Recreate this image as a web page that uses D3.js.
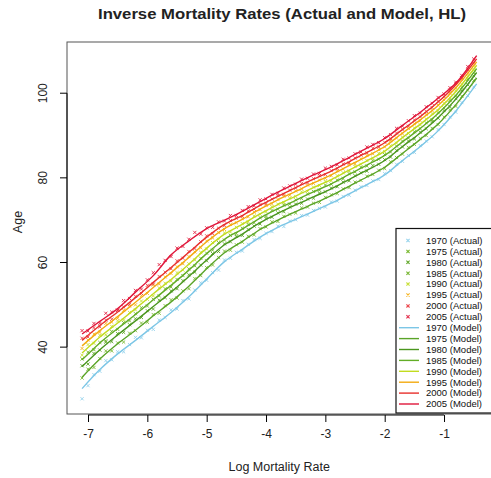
<!DOCTYPE html>
<html>
<head>
<meta charset="utf-8">
<script src="https://cdn.jsdelivr.net/npm/d3@7"></script>
<style>
  html, body { margin: 0; padding: 0; background: #fff; }
  svg { display: block; font-family: "Liberation Sans", Arial, Helvetica, sans-serif; }
</style>
</head>
<body>
<svg id="chart"></svg>
<script>
// ---- data ----
const years = [1970, 1975, 1980, 1985, 1990, 1995, 2000, 2005];
const xTicks = [-7, -6, -5, -4, -3, -2, -1];
const yTicks = [40, 60, 80, 100];

// log mortality grid of the fitted (model) curves, and age reached per year
const modelLogm = [-7.1, -6.8, -6.5, -6.2, -5.9, -5.6, -5.3, -5.0, -4.7, -4.4, -4.1, -3.8, -3.5, -3.2, -2.9, -2.6, -2.3, -2.0, -1.7, -1.4, -1.1, -0.8, -0.45];
const model1970 = [30.2, 34.7, 38.4, 41.6, 44.9, 48.2, 51.9, 56.1, 60.2, 63.1, 66.0, 68.3, 70.2, 72.1, 74.0, 76.2, 78.4, 80.7, 84.1, 87.4, 91.1, 95.8, 102.2];
const model1975 = [32.9, 37.2, 40.8, 44.0, 47.4, 50.7, 54.4, 58.5, 62.3, 65.0, 67.8, 70.0, 72.0, 73.9, 75.8, 78.0, 80.2, 82.5, 85.8, 89.1, 92.7, 97.3, 103.6];
const model1980 = [35.4, 39.4, 42.9, 46.2, 49.6, 53.0, 56.7, 60.6, 64.2, 66.7, 69.4, 71.6, 73.6, 75.5, 77.4, 79.6, 81.8, 84.1, 87.4, 90.6, 94.2, 98.6, 104.9];
const model1985 = [37.0, 41.0, 44.4, 47.7, 51.2, 54.6, 58.2, 62.1, 65.5, 67.9, 70.5, 72.7, 74.7, 76.7, 78.6, 80.8, 83.0, 85.3, 88.5, 91.7, 95.2, 99.5, 105.8];
const model1990 = [38.6, 42.4, 45.7, 49.1, 52.6, 56.0, 59.6, 63.4, 66.7, 69.0, 71.5, 73.7, 75.7, 77.7, 79.6, 81.8, 84.0, 86.3, 89.5, 92.7, 96.1, 100.4, 106.6];
const model1995 = [40.3, 43.9, 47.2, 50.6, 54.1, 57.6, 61.2, 64.9, 68.0, 70.2, 72.6, 74.8, 76.8, 78.8, 80.7, 82.9, 85.1, 87.4, 90.6, 93.7, 97.1, 101.3, 107.4];
const model2000 = [41.6, 45.1, 48.3, 51.7, 55.3, 58.8, 62.4, 66.0, 69.0, 71.1, 73.5, 75.6, 77.7, 79.7, 81.6, 83.8, 86.0, 88.3, 91.4, 94.5, 97.9, 102.0, 108.1];
const model2005 = [43.1, 46.1, 49.1, 53.0, 56.9, 61.8, 65.1, 68.0, 70.0, 72.1, 74.4, 76.6, 78.7, 80.7, 82.6, 84.8, 87.0, 89.3, 92.4, 95.5, 98.8, 102.4, 108.9];

// observed points
const actualLogm = [-7.1, -7.0, -6.9, -6.8, -6.7, -6.6, -6.5, -6.4, -6.3, -6.2, -6.1, -6.0, -5.9, -5.8, -5.7, -5.6, -5.5, -5.4, -5.3, -5.2,
  -5.1, -5.0, -4.9, -4.8, -4.7, -4.6, -4.5, -4.4, -4.3, -4.2, -4.1, -4.0, -3.9, -3.8, -3.7, -3.6, -3.5, -3.4, -3.3, -3.2,
  -3.1, -3.0, -2.9, -2.8, -2.7, -2.6, -2.5, -2.4, -2.3, -2.2, -2.1, -2.0, -1.9, -1.8, -1.7, -1.6, -1.5, -1.4, -1.3, -1.2,
  -1.1, -1.0, -0.9, -0.8, -0.7, -0.6, -0.5];
const actual1970 = [27.8, 30.9, 33.5, 34.3, 36.8, 37.0, 38.9, 38.9, 40.6, 42.3, 42.2, 44.0, 44.2, 46.4, 47.0, 48.8, 49.0, 51.0, 51.4, 53.5,
  55.2, 55.8, 57.6, 58.2, 60.6, 61.0, 62.4, 62.7, 64.3, 65.4, 65.7, 66.9, 67.3, 68.6, 68.5, 69.8, 70.1, 71.1, 71.2, 72.3,
  72.8, 73.1, 74.3, 74.5, 75.6, 75.9, 77.1, 77.9, 78.2, 79.3, 79.6, 81.0, 81.7, 83.2, 83.9, 85.3, 86.0, 87.6, 88.7, 89.7,
  91.4, 92.6, 94.4, 95.5, 97.8, 99.4, 101.5];
const actual1975 = [32.7, 34.8, 35.2, 37.3, 39.1, 39.1, 41.0, 41.2, 43.3, 43.9, 45.7, 45.9, 47.7, 48.0, 49.8, 51.2, 51.6, 53.3, 53.8, 56.2,
  56.9, 58.8, 59.4, 61.2, 62.7, 62.9, 64.2, 64.8, 66.2, 66.5, 68.0, 68.4, 69.6, 69.7, 70.9, 71.4, 71.7, 72.9, 73.1, 74.0,
  74.2, 75.4, 76.0, 76.3, 77.4, 77.7, 79.0, 79.4, 80.4, 80.8, 81.8, 82.2, 83.8, 84.8, 85.6, 87.2, 87.9, 89.3, 90.0, 91.7,
  92.6, 94.4, 96.1, 96.9, 99.3, 100.7, 103.0];
const actual1980 = [35.6, 36.0, 38.5, 39.3, 41.2, 41.3, 43.2, 43.5, 45.3, 46.7, 47.0, 48.6, 49.0, 51.1, 51.7, 53.3, 53.8, 55.7, 57.1, 57.7,
  59.4, 60.4, 62.1, 62.6, 64.4, 64.9, 66.2, 66.4, 67.8, 68.6, 69.1, 70.4, 70.7, 71.7, 72.0, 73.1, 73.8, 74.0, 75.0, 75.2,
  76.4, 76.7, 77.6, 77.9, 79.0, 79.3, 80.5, 81.2, 81.6, 82.9, 83.2, 84.3, 84.9, 86.5, 87.3, 88.7, 89.2, 90.8, 91.6, 93.3,
  94.1, 95.9, 96.8, 98.7, 100.6, 102.0, 104.1];
const actual1985 = [37.2, 38.8, 39.4, 41.1, 41.5, 43.7, 44.2, 45.8, 46.2, 47.9, 49.3, 49.7, 51.3, 52.1, 53.8, 54.2, 56.0, 56.9, 58.5, 59.2,
  61.0, 62.2, 62.9, 64.7, 65.3, 66.4, 66.8, 68.1, 69.0, 69.4, 70.6, 70.9, 72.3, 72.6, 73.6, 73.8, 74.8, 75.1, 76.2, 76.8,
  77.1, 78.3, 78.5, 79.5, 79.8, 81.0, 81.4, 82.5, 82.8, 84.1, 84.4, 85.5, 86.1, 87.5, 88.7, 89.4, 90.9, 91.6, 93.0, 93.7,
  95.4, 96.5, 98.3, 99.3, 101.4, 103.3, 104.8];
const actual1990 = [38.1, 40.6, 40.9, 42.8, 42.9, 44.9, 46.2, 46.4, 48.2, 48.8, 50.9, 51.3, 52.1, 54.0, 55.1, 55.6, 57.6, 58.2, 59.7, 60.6,
  62.4, 63.2, 64.7, 65.5, 67.0, 67.2, 68.3, 69.2, 69.6, 71.0, 71.4, 72.0, 73.2, 73.8, 74.1, 75.2, 75.6, 76.7, 76.8, 77.8,
  78.2, 79.2, 79.3, 80.5, 81.2, 81.6, 82.7, 83.2, 84.1, 84.6, 85.8, 86.2, 87.6, 88.2, 89.6, 90.5, 91.8, 92.5, 93.9, 95.2,
  95.9, 97.6, 98.9, 100.6, 102.1, 104.0, 105.5];
const actual1995 = [39.7, 41.7, 43.1, 43.5, 45.6, 45.9, 46.8, 48.7, 49.7, 50.0, 52.2, 52.7, 54.7, 54.9, 56.6, 57.4, 59.0, 59.7, 61.4, 62.5,
  63.5, 65.1, 65.8, 67.1, 67.8, 69.0, 69.4, 70.4, 70.8, 71.9, 72.5, 73.5, 73.9, 74.9, 75.7, 75.9, 76.9, 77.4, 78.3, 78.7,
  79.5, 79.9, 80.5, 81.7, 82.1, 83.1, 83.3, 84.5, 85.3, 85.7, 86.7, 87.3, 88.8, 89.4, 90.4, 91.7, 92.8, 93.5, 95.0, 95.9,
  97.2, 98.4, 100.0, 101.2, 103.2, 104.7, 106.6];
const actual2000 = [42.1, 42.4, 44.6, 44.8, 46.4, 46.6, 48.7, 49.5, 50.1, 52.0, 52.7, 54.6, 54.9, 56.7, 57.7, 58.5, 60.4, 61.0, 62.6, 63.3,
  64.9, 66.3, 66.8, 68.1, 68.7, 69.9, 70.5, 70.9, 72.2, 72.6, 73.7, 73.9, 75.0, 75.8, 76.1, 77.1, 77.6, 78.7, 78.8, 79.8,
  80.5, 80.8, 81.7, 82.2, 83.3, 83.5, 84.7, 85.4, 85.9, 87.0, 87.3, 88.4, 89.2, 90.6, 91.5, 92.2, 93.7, 94.4, 95.7, 96.6,
  98.1, 99.2, 100.7, 102.2, 103.6, 105.6, 107.1];
const actual2005 = [43.9, 43.8, 45.6, 45.6, 48.0, 48.3, 48.7, 51.0, 51.5, 53.4, 53.7, 55.9, 57.6, 59.5, 60.5, 61.4, 63.4, 63.8, 65.5, 67.1,
  66.7, 68.2, 68.3, 69.6, 69.8, 71.1, 71.1, 72.3, 73.2, 73.4, 74.8, 75.0, 76.1, 76.3, 77.6, 78.1, 78.5, 79.7, 79.9, 80.9,
  81.0, 82.3, 82.7, 83.1, 84.4, 84.7, 85.7, 86.1, 87.3, 87.9, 88.3, 89.5, 90.2, 91.7, 92.2, 93.5, 94.7, 95.3, 96.8, 97.6,
  99.0, 99.8, 101.3, 102.6, 104.2, 106.3, 108.1];

const pointColors = ['#95d3ec', '#7dbb35', '#5ea626', '#74b52e', '#c9e03a', '#f6b526', '#ec4a4f', '#e32c4a'];
const lineColors = ['#7cc6e6', '#5aa428', '#4a961e', '#62ad26', '#c2dc20', '#f3aa10', '#e8302c', '#e0163a'];

const modelAges = [model1970, model1975, model1980, model1985, model1990, model1995, model2000, model2005];
const actualAges = [actual1970, actual1975, actual1980, actual1985, actual1990, actual1995, actual2000, actual2005];

const series = years.map((yr, i) => ({
  year: yr,
  model: modelLogm.map((v, j) => ({ logm: v, age: modelAges[i][j] })),
  actual: actualLogm.map((v, j) => ({ logm: v, age: actualAges[i][j] })),
  pColor: pointColors[i],
  lColor: lineColors[i]
}));

// ---- layout ----
const W = 491, H = 478;
const plot = { left: 67, top: 42, right: 491.5, bottom: 414 };

const svg = d3.select('#chart').attr('width', W).attr('height', H);

const x = d3.scaleLinear().domain([-7.354, -0.2]).range([plot.left, plot.right]);
const y = d3.scaleLinear().domain([24.2, 112.1]).range([plot.bottom, plot.top]);

svg.append('defs').append('clipPath').attr('id', 'clip')
  .append('rect')
  .attr('x', plot.left).attr('y', plot.top)
  .attr('width', plot.right - plot.left).attr('height', plot.bottom - plot.top);

// title
svg.append('text')
  .attr('x', 282).attr('y', 19)
  .attr('text-anchor', 'middle')
  .attr('textLength', 368)
  .attr('lengthAdjust', 'spacingAndGlyphs')
  .style('font-size', '15px')
  .style('font-weight', 'bold')
  .attr('fill', '#222')
  .text('Inverse Mortality Rates (Actual and Model, HL)');

// marks
const marks = svg.append('g').attr('clip-path', 'url(#clip)');
const cross = (px, py, s) => `M${px - s},${py - s}L${px + s},${py + s}M${px - s},${py + s}L${px + s},${py - s}`;

const line = d3.line()
  .x(d => x(d.logm))
  .y(d => y(d.age))
  .curve(d3.curveMonotoneX);

series.forEach(s => {
  marks.append('path')
    .attr('d', s.actual.map(d => cross(x(d.logm), y(d.age), 1.6)).join(''))
    .attr('fill', 'none')
    .attr('stroke', s.pColor)
    .attr('stroke-width', 0.9);
});
series.forEach(s => {
  marks.append('path')
    .datum(s.model)
    .attr('d', line)
    .attr('fill', 'none')
    .attr('stroke', s.lColor)
    .attr('stroke-width', 1.4);
});

// box
svg.append('rect')
  .attr('x', plot.left).attr('y', plot.top)
  .attr('width', plot.right - plot.left).attr('height', plot.bottom - plot.top)
  .attr('fill', 'none')
  .attr('stroke', '#555')
  .attr('stroke-width', 1);

// axes (R style: line spans the ticks)
const xAxis = svg.append('g')
  .attr('transform', `translate(0,${plot.bottom + 1})`)
  .call(d3.axisBottom(x).tickValues(xTicks).tickFormat(d => String(d)).tickSize(7).tickSizeOuter(0).tickPadding(7));
xAxis.select('.domain').attr('d', `M${x(xTicks[0])},0H${x(xTicks[xTicks.length - 1])}`);
xAxis.selectAll('text').style('font-size', '12px').attr('fill', '#222');

const yAxis = svg.append('g')
  .attr('transform', `translate(${plot.left},0)`)
  .call(d3.axisLeft(y).tickValues(yTicks).tickSize(7).tickSizeOuter(0));
yAxis.select('.domain').attr('d', `M0,${y(yTicks[0])}V${y(yTicks[yTicks.length - 1])}`);
yAxis.selectAll('text')
  .attr('x', 0).attr('y', 0)
  .attr('transform', d => `translate(-24,${y(d)}) rotate(-90)`)
  .attr('text-anchor', 'middle')
  .attr('dy', '0.35em')
  .style('font-size', '12px')
  .attr('fill', '#222');
yAxis.selectAll('.tick').attr('transform', null);
yAxis.selectAll('.tick line').attr('transform', d => `translate(0,${y(d)})`);

// axis titles
svg.append('text')
  .attr('x', (plot.left + plot.right) / 2).attr('y', 471)
  .attr('text-anchor', 'middle')
  .style('font-size', '12.5px')
  .attr('fill', '#222')
  .text('Log Mortality Rate');

svg.append('text')
  .attr('transform', 'translate(18,222) rotate(-90)')
  .attr('text-anchor', 'middle')
  .attr('dy', '0.35em')
  .style('font-size', '12.5px')
  .attr('fill', '#222')
  .text('Age');

// legend
const leg = svg.append('g');
leg.append('rect')
  .attr('x', 396).attr('y', 228.5)
  .attr('width', 110).attr('height', 184.5)
  .attr('fill', '#fff')
  .attr('stroke', '#111')
  .attr('stroke-width', 1.2);

const legendItems = [
  ...series.map(s => ({ label: `${s.year} (Actual)`, kind: 'point', color: s.pColor })),
  ...series.map(s => ({ label: `${s.year} (Model)`, kind: 'line', color: s.lColor }))
];
const ly = d3.scaleLinear().domain([0, legendItems.length - 1]).range([240.5, 404]);

const li = leg.selectAll('g.item').data(legendItems).enter().append('g')
  .attr('class', 'item')
  .attr('transform', (d, i) => `translate(0,${ly(i)})`);

li.filter(d => d.kind === 'point').append('path')
  .attr('d', cross(408, 0, 1.6))
  .attr('stroke', d => d.color)
  .attr('stroke-width', 1.1)
  .attr('fill', 'none');

li.filter(d => d.kind === 'line').append('line')
  .attr('x1', 399).attr('x2', 419)
  .attr('y1', 0).attr('y2', 0)
  .attr('stroke', d => d.color)
  .attr('stroke-width', 1.4);

li.append('text')
  .attr('x', 426).attr('y', 0)
  .attr('dy', '0.35em')
  .style('font-size', '9.5px')
  .attr('fill', '#111')
  .text(d => d.label);
</script>
</body>
</html>
